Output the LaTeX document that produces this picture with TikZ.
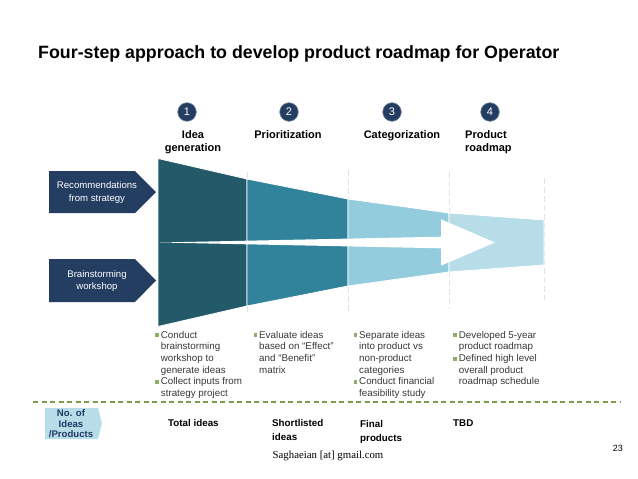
\documentclass[tikz,border=0pt]{standalone}
\usepackage{fontspec}
\setmainfont{Liberation Sans}
\newfontfamily\footfont{Liberation Serif}
\usepackage{xcolor}
\definecolor{navy}{HTML}{243E62}
\definecolor{navytext}{HTML}{1F3864}
\definecolor{tealA}{HTML}{225A6A}
\definecolor{tealB}{HTML}{31839B}
\definecolor{tealC}{HTML}{93CDDD}
\definecolor{tealD}{HTML}{B7DEE8}
\definecolor{guidecol}{HTML}{E9E2DA}
\definecolor{sepgreen}{HTML}{7F9B4A}
\definecolor{bulletgreen}{HTML}{8FAD66}
\definecolor{bodygrey}{HTML}{383838}
\newcommand{\bul}{\makebox[5.7pt][l]{\textcolor{bulletgreen}{\rule[0.8pt]{3.8pt}{3.8pt}}}}
\newcommand{\ind}{\hspace*{5.7pt}}

\begin{document}
\begin{tikzpicture}[x=1pt,y=-1pt,%
	stepnum/.style={circle,fill=navy,draw=navy!65!white,line width=0.6pt,text=white,minimum size=18.6pt,inner sep=0pt,font=\fontsize{11}{12}\selectfont},
	steptitle/.style={inner sep=0pt,font=\bfseries\fontsize{11}{12.7}\selectfont},
	bullets/.style={anchor=north west,align=left,inner sep=0pt,text=bodygrey,font=\fontsize{9.8}{11.7}\selectfont},
	sidetext/.style={text=white,align=center,inner sep=0pt,font=\fontsize{9.6}{12.3}\selectfont},
	rowlabel/.style={anchor=north west,align=left,inner sep=0pt,font=\bfseries\fontsize{9.8}{13.5}\selectfont},
	guide/.style={guidecol,dash pattern=on 6pt off 3pt,line width=0.8pt},
	segment/.style={draw=white,line width=0.8pt}]

	\fill[white] (0,0) rectangle (638,479);
	\useasboundingbox (0,0) rectangle (638,479);

	\node[anchor=base west,inner sep=0pt,font=\bfseries\fontsize{17.8}{20}\selectfont] (title) at (38,58)
		{Four-step approach to develop product roadmap for Operator};

	% step numbers and headings
	\foreach \cx/\num in {187/1,289/2,392/3,490/4}
		\node[stepnum] (n-\num) at (\cx,112) {\num};
	\node[steptitle,anchor=north,align=center] (h-1) at (193,130.3) {Idea\\generation};
	\node[steptitle,anchor=north,align=center] (h-2) at (288,130.3) {Prioritization};
	\node[steptitle,anchor=north,align=center] (h-3) at (402,130.3) {Categorization};
	\node[steptitle,anchor=north west,align=left] (h-4) at (465,130.3) {Product\\roadmap};

	% guide lines behind the funnel
	\foreach \gx/\gtop/\gbot in {247/172/312,348/170/312,449/172/309,544/178/300}
		\draw[guide] (\gx,\gtop) -- (\gx,\gbot);

	% funnel
	\foreach \xa/\xb/\ha/\hb/\col in {158/247/84/63.5/tealA,247/348/63.5/43.5/tealB,%
		348/449/43.5/29.5/tealC,449/544/29.5/22.5/tealD}
		\filldraw[segment,fill=\col] (\xa,242.5-\ha) -- (\xb,242.5-\hb) -- (\xb,242.5+\hb) -- (\xa,242.5+\ha) -- cycle;
	\fill[white] (160,242.5) -- (441,236.7) -- (441,219.3) -- (495,242.5) -- (441,265.7) -- (441,248.3) -- cycle;

	% inputs on the left
	\foreach \ya/\yb/\txt [count=\i] in {171/213/{Recommendations\\from strategy},259/302/{Brainstorming\\workshop}} {
		\fill[navy] (49,\ya) -- (135,\ya) -- (156,{(\ya+\yb)/2}) -- (135,\yb) -- (49,\yb) -- cycle;
		\node[sidetext] (in-\i) at (97,{(\ya+\yb)/2+0.5}) {\txt};
	}

	% activities per step
	\node[bullets] (col-1) at (155,330.7) {\bul Conduct\\\ind brainstorming\\\ind workshop to\\\ind generate ideas\\\bul Collect inputs from\\\ind strategy project};
	\node[bullets] (col-2) at (253.3,330.7) {\bul Evaluate ideas\\\ind based on “Effect”\\\ind and “Benefit”\\\ind matrix};
	\node[bullets] (col-3) at (353.3,330.7) {\bul Separate ideas\\\ind into product vs\\\ind non-product\\\ind categories\\\bul Conduct financial\\\ind feasibility study};
	\node[bullets] (col-4) at (453,330.7) {\bul Developed 5-year\\\ind product roadmap\\\bul Defined high level\\\ind overall product\\\ind roadmap schedule};

	\draw[sepgreen,dash pattern=on 5pt off 3.5pt,line width=1.1pt] (33,402) -- (620,402);

	% number of ideas row
	\fill[tealD] (45,408) -- (98,408) -- (102,423.5) -- (98,439) -- (45,439) -- cycle;
	\node[anchor=north,align=center,inner sep=0pt,text=navytext,font=\bfseries\fontsize{9.6}{10.5}\selectfont] (count) at (71,409.7) {No. of\\Ideas\\/Products};
	\foreach \rx/\ry/\txt [count=\i] in {168/419.3/{Total ideas},272/419.3/{Shortlisted\\ideas},360/420.5/{Final\\products},453/419.3/TBD}
		\node[rowlabel] (row-\i) at (\rx,\ry) {\txt};

	\node[anchor=base,inner sep=0pt,font=\footfont\fontsize{10.8}{12}\selectfont] (mail) at (328,458.5) {Saghaeian [at] gmail.com};
	\node[anchor=base east,inner sep=0pt,font=\fontsize{9}{10}\selectfont] (page) at (623,451) {23};
\end{tikzpicture}
\end{document}
